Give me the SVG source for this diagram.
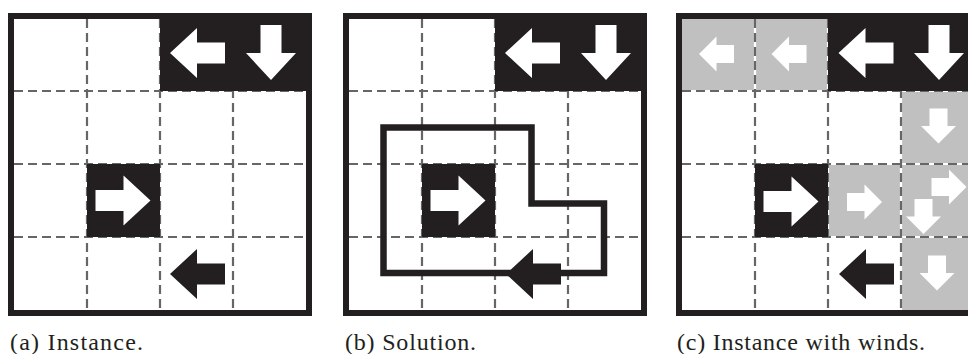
<svg xmlns="http://www.w3.org/2000/svg" xmlns:xlink="http://www.w3.org/1999/xlink" width="968" height="354" viewBox="0 0 968 354">
<style>
.bg{fill:#fff}
.frame{fill:none;stroke:#231f20;stroke-width:6}
.blk{fill:#231f20}
.gry{fill:#c0c0c0}
.gw{stroke:#fff;stroke-width:2.2;fill:none}
.gd{stroke:#666;stroke-width:2.2;stroke-dasharray:9 5;fill:none}
.wa{fill:#fff}
.ba{fill:#231f20}
.cap{font-family:"Liberation Serif","Times New Roman",serif;font-size:24px;fill:#231f20}
.loop{fill:none;stroke:#231f20;stroke-width:6.5;stroke-linejoin:miter}
</style>
<defs>
<path id="big" d="M-28,-10.5H0V-25L27,0L0,25V10.5H-28Z"/>
<path id="small" d="M-17.5,-9H0V-17.5L17.5,0L0,17.5V9H-17.5Z"/>
<path id="gridlines" d="M87,19V310M160,19V310M233,19V310M14,91H306M14,164H306M14,237H306"/>
</defs>
<rect class="bg" x="0" y="0" width="968" height="354"/>

<g id="panel-a">
<use xlink:href="#gridlines" class="gd"/>
<rect class="blk" x="160" y="19" width="146" height="72"/>
<rect class="blk" x="87" y="164" width="73" height="73"/>
<rect class="frame" x="11" y="16" width="298" height="297"/>
<use xlink:href="#big" class="wa" transform="translate(197,53) rotate(180)"/>
<use xlink:href="#big" class="wa" transform="translate(271,53) rotate(90)"/>
<use xlink:href="#big" class="wa" transform="translate(123.5,200.5)"/>
<use xlink:href="#big" class="ba" transform="translate(197,274) rotate(180)"/>
</g>

<g id="panel-b" transform="translate(335,0)">
<use xlink:href="#gridlines" class="gd"/>
<rect class="blk" x="160" y="19" width="146" height="72"/>
<rect class="blk" x="87" y="164" width="73" height="73"/>
<rect class="frame" x="11" y="16" width="298" height="297"/>
<g id="connectors">
<path class="loop" d="M48.5,127.5H196.5V203.5H269V273H48.5Z"/>
</g>
<use xlink:href="#big" class="wa" transform="translate(197,53) rotate(180)"/>
<use xlink:href="#big" class="wa" transform="translate(271,53) rotate(90)"/>
<use xlink:href="#big" class="wa" transform="translate(123.5,200.5)"/>
<use xlink:href="#big" class="ba" transform="translate(198,274) rotate(180)"/>
</g>

<g id="panel-c" transform="translate(668,0)">
<rect class="gry" x="14" y="19" width="73" height="72"/>
<rect class="gry" x="87" y="19" width="73" height="72"/>
<rect class="gry" x="233" y="91" width="73" height="73"/>
<rect class="gry" x="160" y="164" width="73" height="73"/>
<rect class="gry" x="233" y="164" width="73" height="73"/>
<rect class="gry" x="233" y="237" width="73" height="73"/>
<use xlink:href="#gridlines" class="gw"/>
<use xlink:href="#gridlines" class="gd"/>
<rect class="blk" x="160" y="19" width="146" height="72"/>
<rect class="blk" x="87" y="164" width="73" height="73"/>
<rect class="frame" x="11" y="16" width="298" height="297"/>
<use xlink:href="#small" class="wa" transform="translate(48.5,54) rotate(180)"/>
<use xlink:href="#small" class="wa" transform="translate(121,54) rotate(180)"/>
<use xlink:href="#small" class="wa" transform="translate(270.5,126) rotate(90)"/>
<use xlink:href="#small" class="wa" transform="translate(196.5,202)"/>
<use xlink:href="#small" class="wa" transform="translate(281,187)"/>
<use xlink:href="#small" class="wa" transform="translate(255.5,216.5) rotate(90)"/>
<use xlink:href="#small" class="wa" transform="translate(269,273) rotate(90)"/>
<use xlink:href="#big" class="wa" transform="translate(197.5,53) rotate(180)"/>
<use xlink:href="#big" class="wa" transform="translate(271,53) rotate(90)"/>
<use xlink:href="#big" class="wa" transform="translate(123.5,201.5)"/>
<use xlink:href="#big" class="ba" transform="translate(198,274) rotate(180)"/>
</g>

<g id="captions">
<text class="cap" x="10" y="350" textLength="133" lengthAdjust="spacing">(a) Instance.</text>
<text class="cap" x="345" y="350" textLength="131" lengthAdjust="spacing">(b) Solution.</text>
<text class="cap" x="677" y="350" textLength="248" lengthAdjust="spacing">(c) Instance with winds.</text>
</g>
</svg>
